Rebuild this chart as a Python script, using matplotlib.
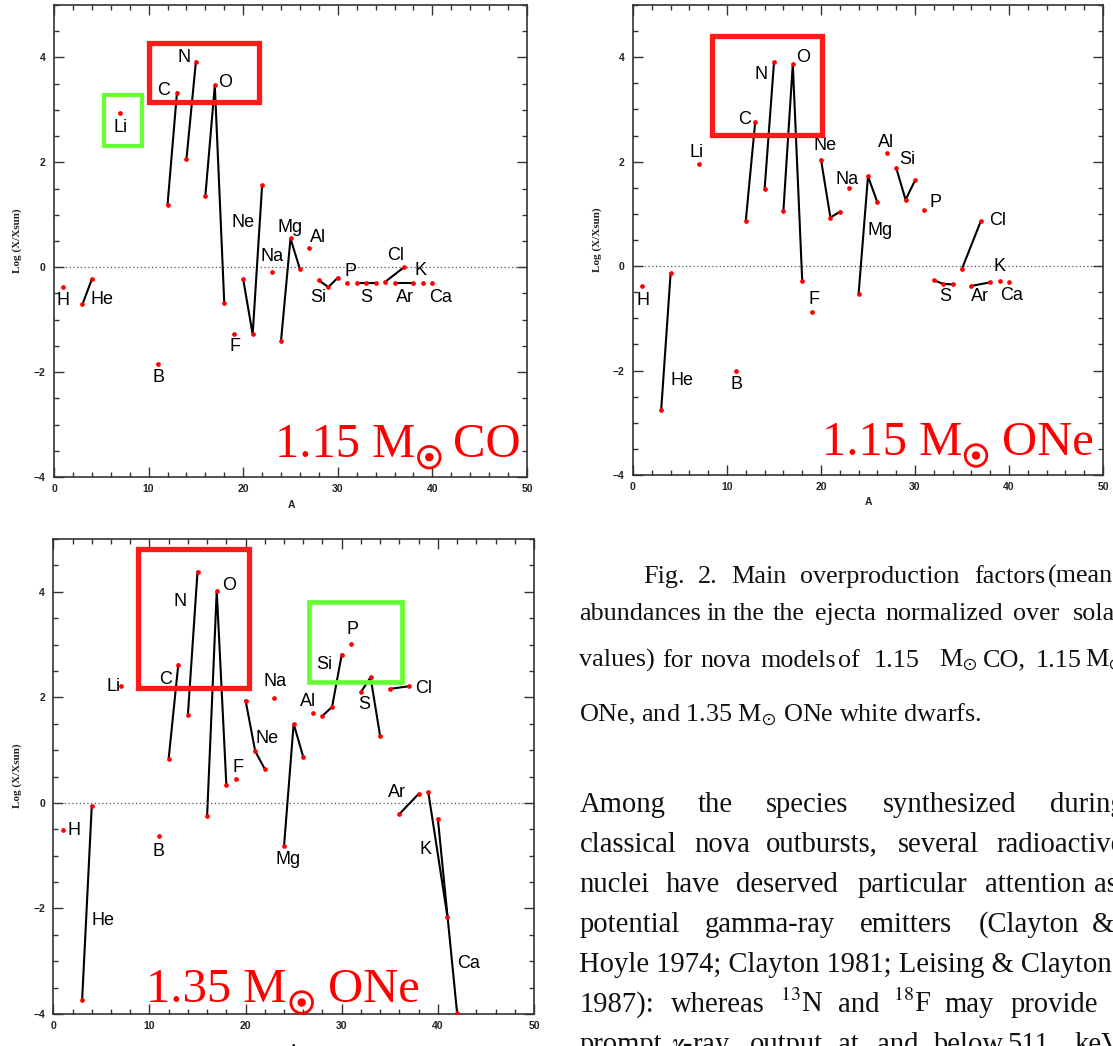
import matplotlib
matplotlib.use('Agg')
import matplotlib.pyplot as plt
from matplotlib.patches import Rectangle, Circle
from matplotlib.ticker import MultipleLocator

plt.rcParams.update({
    'font.family': 'Liberation Sans',
    'mathtext.fontset': 'stix',
    'axes.linewidth': 1.2,
    'axes.edgecolor': '#333333',
})

W, H = 1113, 1046

# --- abundances: log of mass fraction over solar, per element, per isotope ---
elements = ['H', 'He', 'Li', 'B', 'C', 'N', 'O', 'F', 'Ne', 'Na', 'Mg', 'Al',
            'Si', 'P', 'S', 'Cl', 'Ar', 'K', 'Ca']
mass = [[1], [3, 4], [7], [11], [12, 13], [14, 15], [16, 17, 18], [19],
        [20, 21, 22], [23], [24, 25, 26], [27], [28, 29, 30], [31],
        [32, 33, 34], [35, 37], [36, 38], [39], [40]]
mass_one135 = mass[:-2] + [[39, 41], [40, 42]]

logf_co115 = [[-0.37], [-0.71, -0.23], [2.95], [-1.85], [1.19, 3.33],
              [2.06, 3.92], [1.36, 3.47, -0.69], [-1.28], [-0.23, -1.28, 1.56],
              [-0.09], [-1.40, 0.55, -0.04], [0.36], [-0.25, -0.38, -0.20],
              [-0.30], [-0.30, -0.30, -0.30], [-0.28, 0.0], [-0.30, -0.30],
              [-0.30], [-0.30]]
logf_one115 = [[-0.38], [-2.75, -0.14], [1.95], [-2.0], [0.87, 2.76],
               [1.47, 3.90], [1.06, 3.87, -0.28], [-0.88], [2.04, 0.93, 1.04],
               [1.50], [-0.53, 1.72, 1.22], [2.16], [1.88, 1.27, 1.64],
               [1.08], [-0.27, -0.34, -0.35], [-0.05, 0.86], [-0.38, -0.31],
               [-0.29], [-0.31]]
logf_one135 = [[-0.51], [-3.73, -0.06], [2.21], [-0.63], [0.84, 2.62],
               [1.67, 4.38], [-0.24, 4.02, 0.34], [0.45], [1.94, 0.98, 0.64],
               [1.99], [-0.82, 1.50, 0.87], [1.70], [1.65, 1.82, 2.81],
               [3.01], [2.10, 2.38, 1.26], [2.16, 2.21], [-0.21, 0.17],
               [0.21, -2.16], [-0.30, -3.98]]

# element label anchors (A, log) for each panel
lab_co115 = {'H': (0.95, -0.64), 'He': (5.03, -0.62), 'Li': (7.04, 2.67),
             'B': (11.03, -2.10), 'C': (11.53, 3.37), 'N': (13.75, 4.0),
             'O': (18.10, 3.52), 'F': (19.09, -1.52), 'Ne': (19.98, 0.86),
             'Na': (23.09, 0.21), 'Mg': (24.92, 0.75), 'Al': (27.89, 0.57),
             'Si': (27.93, -0.58), 'P': (31.36, -0.09), 'S': (33.02, -0.58),
             'Cl': (36.13, 0.23), 'Ar': (37.08, -0.58), 'K': (38.78, -0.07),
             'Ca': (40.83, -0.58)}
lab_one115 = {'H': (1.02, -0.65), 'He': (5.17, -2.19), 'Li': (6.81, 2.18),
              'B': (10.96, -2.26), 'C': (11.84, 2.81), 'N': (13.62, 3.67),
              'O': (18.15, 3.99), 'F': (19.21, -0.64), 'Ne': (20.46, 2.30),
              'Na': (22.80, 1.66), 'Mg': (26.31, 0.69), 'Al': (26.91, 2.37),
              'Si': (29.21, 2.04), 'P': (32.13, 1.21), 'S': (33.22, -0.58),
              'Cl': (38.79, 0.88), 'Ar': (36.95, -0.58), 'K': (38.94, 0.0),
              'Ca': (40.28, -0.56)}
lab_one135 = {'H': (2.15, -0.52), 'He': (5.20, -2.22), 'Li': (6.24, 2.21),
              'B': (10.96, -0.92), 'C': (11.69, 2.34), 'N': (13.18, 3.82),
              'O': (18.31, 4.11), 'F': (19.24, 0.67), 'Ne': (22.23, 1.22),
              'Na': (23.06, 2.30), 'Mg': (24.45, -1.08), 'Al': (26.46, 1.93),
              'Si': (28.19, 2.62), 'P': (31.15, 3.28), 'S': (32.35, 1.87),
              'Cl': (38.49, 2.17), 'Ar': (35.79, 0.19), 'K': (38.74, -0.88),
              'Ca': (43.17, -3.05)}

RED = '#ff1a1a'
GREEN = '#66ff33'


def px(x, y):
    return x / W, 1 - y / H


fig = plt.figure(figsize=(W / 100, H / 100), dpi=100)


def model_tag(mass_txt, core_txt, x0, x_sun, x_core, base):
    """Big red model tag: '<mass> M(sun) <core>', positions in pixels."""
    kw = dict(color='red', fontsize=35, family='Liberation Serif',
              ha='left', va='baseline', zorder=6)
    fig.text(*px(x0, base), mass_txt + ' M', **kw)
    fig.text(*px(x_core, base), core_txt, **kw)
    # solar symbol drawn as a ring with a dot, in inches from the lower left
    c = (x_sun / 100, (H - base - 0.5) / 100)
    fig.add_artist(Circle(c, 0.108, transform=fig.dpi_scale_trans,
                          fill=False, ec='red', lw=2.0))
    fig.add_artist(Circle(c, 0.042, transform=fig.dpi_scale_trans,
                          color='red', lw=0))


def draw_panel(rect, masses, logf, labels, boxes, ylab_xy, xlab_xy):
    ax = fig.add_axes(rect)
    ax.axhline(0, color='#555555', lw=0.9, ls=(0, (1, 2)), zorder=1)
    for el, m, v in zip(elements, masses, logf):
        if len(m) > 1:
            ax.plot(m, v, color='black', lw=1.5, zorder=2)
        ax.plot(m, v, 'o', color='red', ms=3.4, mec='none', zorder=3)
        lx, ly = labels[el]
        ax.text(lx, ly, el, fontsize=13, ha='center', va='center', zorder=4)
    for (x0, y0, x1, y1), col, lw in boxes:
        ax.add_patch(Rectangle((x0, y0), x1 - x0, y1 - y0, fill=False,
                               ec=col, lw=lw, zorder=5))

    ax.set_xlim(0, 50)
    ax.set_ylim(-4, 5)
    ax.set_xticks(range(0, 51, 10))
    ax.set_yticks([-4, -2, 0, 2, 4])
    ax.xaxis.set_minor_locator(MultipleLocator(2))
    ax.yaxis.set_minor_locator(MultipleLocator(0.5))
    ax.tick_params(which='both', direction='in', top=True, right=True,
                   color='#333333', width=1.0, labelsize=7.5,
                   labelcolor='#222222')
    ax.tick_params(which='major', length=7)
    ax.tick_params(which='minor', length=3.5)
    ax.tick_params(axis='x', pad=5)
    ax.tick_params(axis='y', pad=6)
    for t in ax.get_xticklabels() + ax.get_yticklabels():
        t.set_fontweight('bold')

    fig.text(*px(*ylab_xy), 'Log (X/Xsun)', rotation=90, ha='center',
             va='center', fontsize=8, family='Liberation Serif',
             fontweight='bold', color='#222222')
    fig.text(*px(*xlab_xy), 'A', ha='center', va='center', fontsize=7.5,
             fontweight='bold', color='#222222')
    return ax


draw_panel([54 / W, 1 - 477 / H, 473 / W, 472 / H], mass, logf_co115,
           lab_co115,
           [((10.0, 3.15, 21.7, 4.27), RED, 3.8),
            ((5.27, 2.32, 9.30, 3.28), GREEN, 3.0)],
           (17, 241), (291, 505))
model_tag('1.15', 'CO', 275, 429.3, 452.7, 456.7)

draw_panel([633 / W, 1 - 475 / H, 470 / W, 470 / H], mass, logf_one115,
           lab_one115,
           [((8.44, 2.52, 20.14, 4.40), RED, 3.8)],
           (597, 240), (868, 502))
model_tag('1.15', 'ONe', 822, 976, 1001.7, 455)

draw_panel([53.3 / W, 1 - 1014 / H, 480.7 / W, 475 / H], mass_one135,
           logf_one135, lab_one135,
           [((8.76, 2.18, 20.36, 4.82), RED, 3.8),
            ((26.55, 2.29, 36.22, 3.80), GREEN, 3.4)],
           (17, 776), (293, 1049))
model_tag('1.35', 'ONe', 145.7, 301.7, 328.3, 1002)

# --- caption and running text on the right ---
CAPTION = dict(family='Liberation Serif', fontsize=18.8, va='baseline',
               color='#111111')
BODY = dict(CAPTION, fontsize=20.6)


def words(y, items, style):
    for x, w in items:
        fig.text(*px(x, y), w, **style)


words(582.7, [(642.8, 'Fig.'), (697.4, '2.'), (730.9, 'Main'),
              (799.6, 'overproduction'), (974, 'factors'), (1048, '(mean')],
      CAPTION)
words(620, [(579.4, 'abundances'), (706.2, 'in'), (732.6, 'the'),
            (773.1, 'the'), (815.4, 'ejecta'), (885.9, 'normalized'),
            (1012.7, 'over'), (1072.6, 'solar')], CAPTION)
words(666.7, [(579.4, 'values)'), (662.2, 'for'), (700.9, 'nova'),
              (760.8, 'models'), (838.3, 'of'), (873.5, '1.15'),
              (938.7, r'M$_{\odot}$'), (982.8, 'CO,'), (1035.6, '1.15'),
              (1084.9, r'M$_{\odot}$')], CAPTION)
words(721.7, [(579.4, r'ONe, and 1.35 M$_{\odot}$ ONe white dwarfs.')],
      CAPTION)

words(811.7, [(579.4, 'Among'), (697.4, 'the'), (766.1, 'species'),
              (882.4, 'synthesized'), (1049.7, 'during')], BODY)
words(851.7, [(579.4, 'classical'), (693.9, 'nova'), (766.1, 'outbursts,'),
              (898.2, 'several'), (996.9, 'radioactive')], BODY)
words(891.7, [(579.4, 'nuclei'), (665.7, 'have'), (736.2, 'deserved'),
              (857.7, 'particular'), (984.5, 'attention'), (1093.7, 'as')],
      BODY)
words(931.7, [(579.4, 'potential'), (704.4, 'gamma-ray'), (859.5, 'emitters'),
              (979.2, '(Clayton'), (1092, '&')], BODY)
words(971.7, [(579.4, 'Hoyle 1974; Clayton 1981; Leising & Clayton')], BODY)
words(1011.7, [(579.4, '1987):'), (671, 'whereas'), (780.2, r'$^{13}$N'),
               (838.3, 'and'), (892.9, r'$^{18}$F'), (944, 'may'),
               (1010.9, 'provide')], BODY)
words(1051.7, [(579.4, 'prompt'), (671, r'$\gamma$-ray'), (750.2, 'output'),
               (838.3, 'at'), (877.1, 'and'), (933.4, 'below'),
               (1007.4, '511'), (1074.4, 'keV')], BODY)

fig.savefig('out.png', dpi=100)
